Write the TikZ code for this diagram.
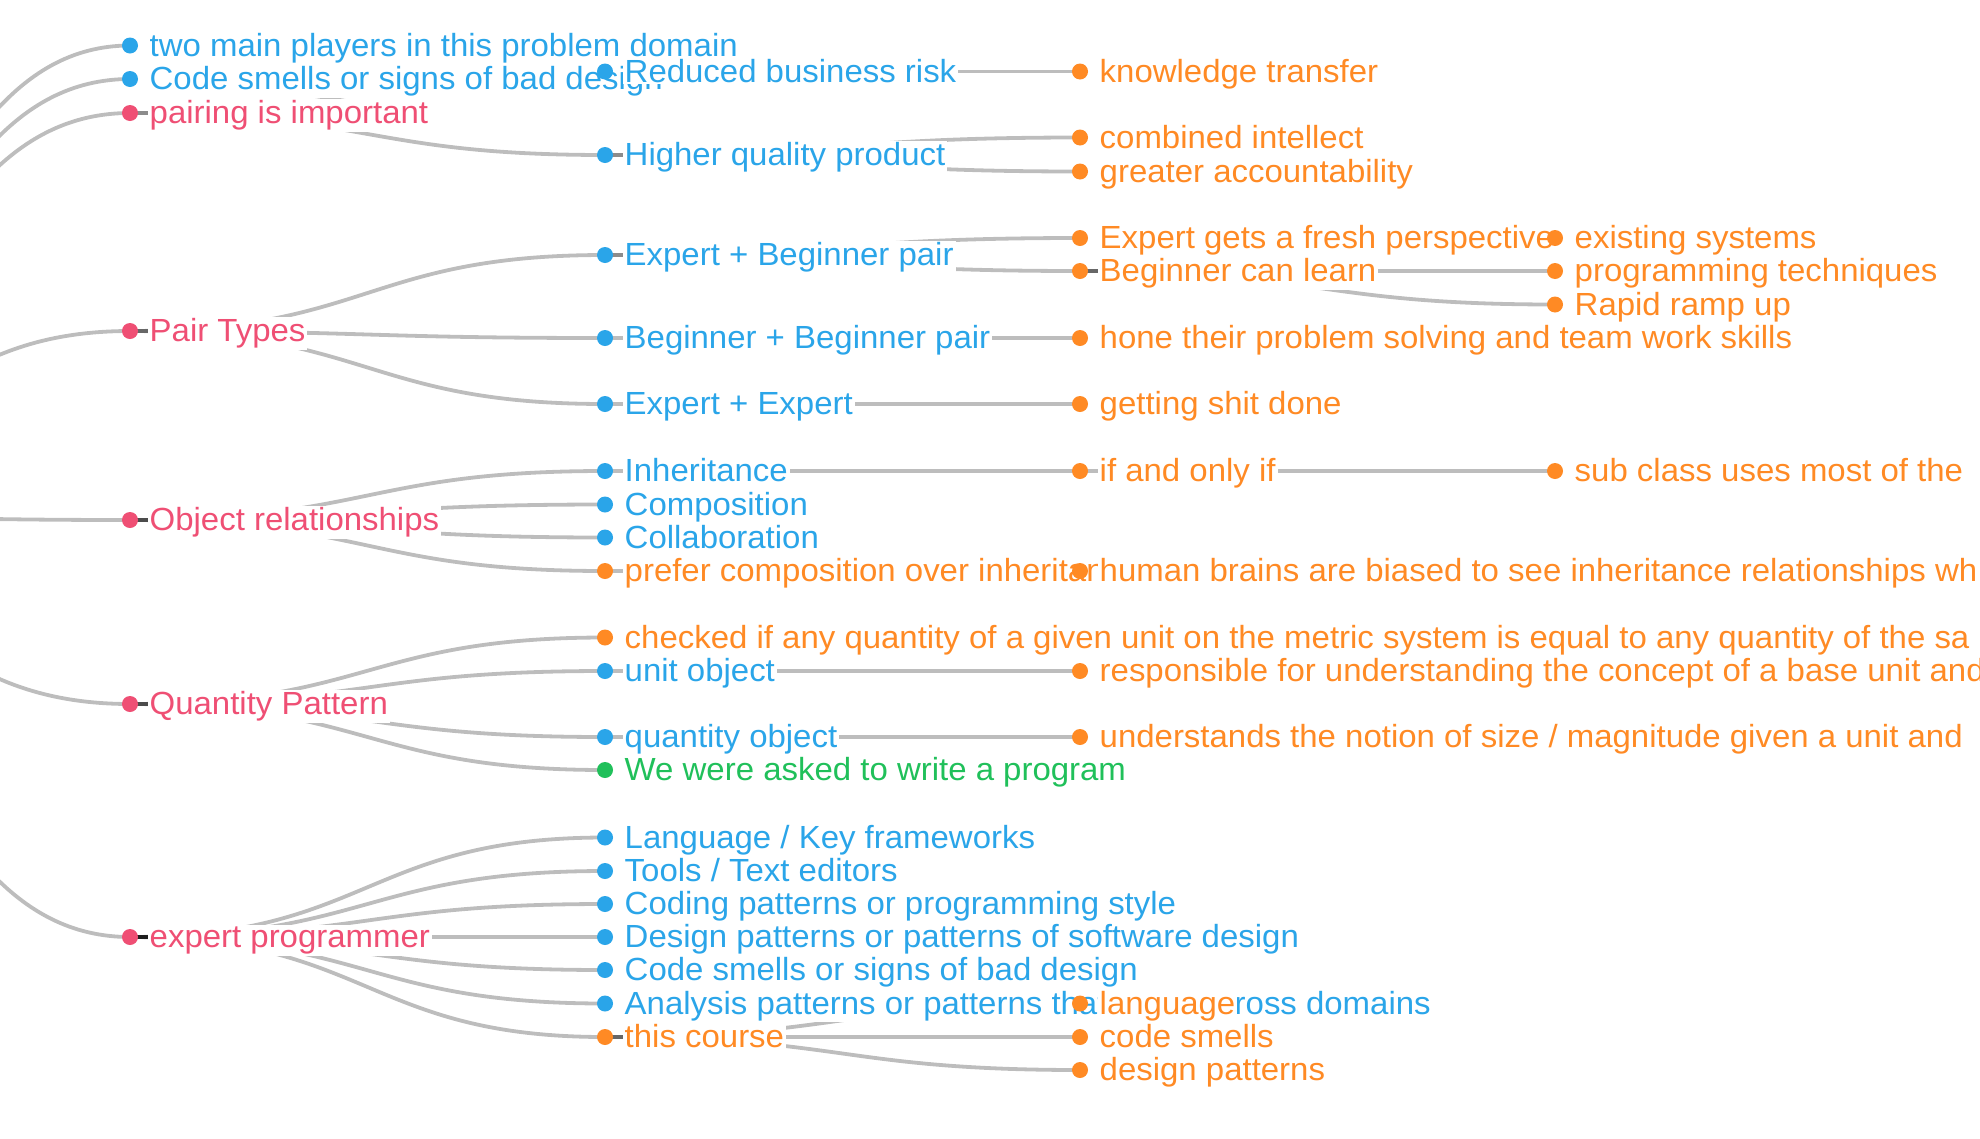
\documentclass[tikz,border=0pt]{standalone}
\usepackage{fontspec}
\setmainfont[FakeStretch=1.03]{Liberation Sans}
\usetikzlibrary{calc}
\definecolor{cblue}{HTML}{2AA5E9}
\definecolor{cpink}{HTML}{EF4F74}
\definecolor{corange}{HTML}{FF8A24}
\definecolor{cgreen}{HTML}{20C05A}
\pgfdeclarelayer{bg}
\pgfsetlayers{bg,main}
\tikzset{
  dotnode/.style={circle, fill=#1, draw=none, inner sep=0pt, minimum size=16pt},
  lbl/.style={anchor=base west, text=#1, fill=white, inner xsep=2pt, inner ysep=1.5pt,
    font=\fontsize{32}{38}\selectfont},
  link/.style={draw=black, draw opacity=0.26, line width=3.8pt},
}
\newcommand\mnode[5]{%
  \node[dotnode=#4] (#1) at (#2,#3) {};
  \node[lbl=#4] (#1t) at ($(#1.center)+(17.5,10.5)$) {#5};
}
\newcommand\lnk[2]{%
  \draw[link] let \p1=(#1.center), \p2=(#2.center) in
    (\p1) .. controls ({0.5*\x1+0.5*\x2},\y1) and ({0.5*\x1+0.5*\x2},\y2) .. (\p2);
}
\begin{document}
\begin{tikzpicture}[x=1pt,y=-1pt]
\useasboundingbox (0,0) rectangle (1980,1138);
\begin{pgfonlayer}{bg}
  \fill[white] (0,0) rectangle (1980,1138);
\end{pgfonlayer}
\coordinate (root) at (-345,513);
% level 1
\mnode{a1}{130}{45.5}{cblue}{two main players in this problem domain}
\mnode{a2}{130}{79}{cblue}{Code smells or signs of bad design}
\mnode{a3}{130}{113}{cpink}{pairing is important}
\mnode{a4}{130}{331}{cpink}{Pair Types}
\mnode{a5}{130}{520}{cpink}{Object relationships}
\mnode{a6}{130}{704}{cpink}{Quantity Pattern}
\mnode{a7}{130}{937}{cpink}{expert programmer}
% level 2
\mnode{b1}{605}{71.5}{cblue}{Reduced business risk}
\mnode{b2}{605}{155}{cblue}{Higher quality product}
\mnode{b3}{605}{255}{cblue}{Expert + Beginner pair}
\mnode{b4}{605}{338}{cblue}{Beginner + Beginner pair}
\mnode{b5}{605}{404}{cblue}{Expert + Expert}
\mnode{b6}{605}{471}{cblue}{Inheritance}
\mnode{b7}{605}{504.5}{cblue}{Composition}
\mnode{b8}{605}{537.5}{cblue}{Collaboration}
\mnode{b9}{605}{571}{corange}{prefer composition over inheritance}
\mnode{b10}{605}{637.5}{corange}{checked if any quantity of a given unit on the metric system is equal to any quantity of the sa}
\mnode{b11}{605}{671}{cblue}{unit object}
\mnode{b12}{605}{737}{cblue}{quantity object}
\mnode{b13}{605}{770}{cgreen}{We were asked to write a program}
\mnode{b14}{605}{837.5}{cblue}{Language / Key frameworks}
\mnode{b15}{605}{871}{cblue}{Tools / Text editors}
\mnode{b16}{605}{904}{cblue}{Coding patterns or programming style}
\mnode{b17}{605}{937}{cblue}{Design patterns or patterns of software design}
\mnode{b18}{605}{970}{cblue}{Code smells or signs of bad design}
\mnode{b19}{605}{1003.5}{cblue}{Analysis patterns or patterns that recur across domains}
\mnode{b20}{605}{1037}{corange}{this course}
% level 3
\mnode{c1}{1080}{71.5}{corange}{knowledge transfer}
\mnode{c2}{1080}{137.5}{corange}{combined intellect}
\mnode{c3}{1080}{171.5}{corange}{greater accountability}
\mnode{c4}{1080}{238}{corange}{Expert gets a fresh perspective}
\mnode{c5}{1080}{271}{corange}{Beginner can learn}
\mnode{c6}{1080}{338}{corange}{hone their problem solving and team work skills}
\mnode{c7}{1080}{404}{corange}{getting shit done}
\mnode{c8}{1080}{471}{corange}{if and only if}
\mnode{c9}{1080}{571}{corange}{human brains are biased to see inheritance relationships wh}
\mnode{c10}{1080}{671}{corange}{responsible for understanding the concept of a base unit and}
\mnode{c11}{1080}{737}{corange}{understands the notion of size / magnitude given a unit and}
\mnode{c12}{1080}{1003.5}{corange}{language}
\mnode{c13}{1080}{1037}{corange}{code smells}
\mnode{c14}{1080}{1070}{corange}{design patterns}
% level 4
\mnode{d1}{1555}{238}{corange}{existing systems}
\mnode{d2}{1555}{271}{corange}{programming techniques}
\mnode{d3}{1555}{304.5}{corange}{Rapid ramp up}
\mnode{d4}{1555}{471}{corange}{sub class uses most of the}
% links
\begin{pgfonlayer}{bg}
\foreach \c in {a1,a2,a3,a4,a5,a6,a7}{\lnk{root}{\c}}
\foreach \c in {b1,b2}{\lnk{a3}{\c}}
\foreach \c in {b3,b4,b5}{\lnk{a4}{\c}}
\foreach \c in {b6,b7,b8,b9}{\lnk{a5}{\c}}
\foreach \c in {b10,b11,b12,b13}{\lnk{a6}{\c}}
\foreach \c in {b14,b15,b16,b17,b18,b19,b20}{\lnk{a7}{\c}}
\lnk{b1}{c1}
\lnk{b2}{c2}\lnk{b2}{c3}
\lnk{b3}{c4}\lnk{b3}{c5}
\lnk{b4}{c6}
\lnk{b5}{c7}
\lnk{b6}{c8}
\lnk{b9}{c9}
\lnk{b11}{c10}
\lnk{b12}{c11}
\foreach \c in {c12,c13,c14}{\lnk{b20}{\c}}
\foreach \c in {d1,d2,d3}{\lnk{c5}{\c}}
\lnk{c8}{d4}
\end{pgfonlayer}
\end{tikzpicture}
\end{document}
